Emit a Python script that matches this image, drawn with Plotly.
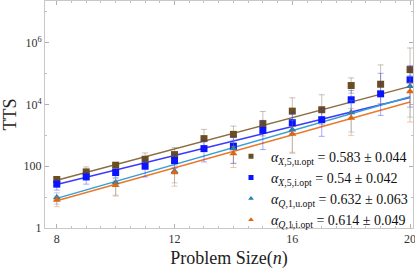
import numpy as np
import plotly.graph_objects as go

# ---- data ----
n_all = [8, 9, 10, 11, 12, 13, 14, 15, 16, 17, 18, 19, 20]
n_even = [8, 10, 12, 14, 16, 18, 20]

x5u_val = [37.2, 65.5, 108, 168, 238, 783, 1077, 2385, 6080, 6745, 41000, 45200, 134500]
x5u_top = [45, 95, 128, 269, 401, 1560, 1995, 5940, 16400, 20600, 72600, 191000, 675000]
x5u_bot = [30.7, 45, 91, 105, 142, 392, 582, 957, 2250, 2215, 23200, 10700, 26900]

x5i_val = [26.3, 45, 62.6, 100, 153, 372, 442, 1450, 2570, 3210, 14200, 22100, 62600]
x5i_top = [35.3, 64, 86, 156, 244, 690, 929, 3050, 5520, 7430, 28300, 102000, 181000]
x5i_bot = [16.8, 26.3, 41, 45, 86, 138, 125, 346, 1160, 929, 3530, 4420, 8180]

q1u_val = [9.8, 29.8, 69, 372, 1528, 5520, 38900]
q1u_top = [13.8, 44, 108, 690, 3050, 13500, 86100]
q1u_bot = [5.9, 11.6, 28.9, 122, 283, 1280, 3890]

q1i_val = [8.0, 24.4, 62.6, 257, 1102, 3615, 26300]
q1i_top = [10.8, 35.3, 93, 442, 1950, 7430, 51300]
q1i_bot = [4.9, 10.8, 22.6, 91, 262, 1000, 2690]

alphas = [0.583, 0.54, 0.632, 0.614]
alpha_errs = [0.044, 0.042, 0.063, 0.049]
fit_at_8 = [35.3, 25.7, 9.1, 7.6]
subs = ["X,5,u.opt", "X,5,i.opt", "Q,1,u.opt", "Q,1,i.opt"]

y_tickvals = [1, 100, 1e4, 1e6]
y_ticktext = ["1", "100", "10<sup>4</sup>", "10<sup>6</sup>"]
x_tickvals = [8, 12, 16, 20]

# ---- styles ----
marker_cols = ["#6b4e1f", "#0a14ff", "#1f7fb8", "#e0650f"]
line_cols = ["#8a6d42", "#3a3aff", "#3a9fd0", "#e87a2e"]
err_cols = ["rgba(120,100,70,0.4)", "rgba(40,40,255,0.4)",
            "rgba(60,150,210,0.4)", "rgba(230,110,30,0.4)"]
symbols = ["square", "square", "triangle-up", "triangle-up"]
FONT = "Liberation Serif"

series = [
    (n_all, x5u_val, x5u_top, x5u_bot),
    (n_all, x5i_val, x5i_top, x5i_bot),
    (n_even, q1u_val, q1u_top, q1u_bot),
    (n_even, q1i_val, q1i_top, q1i_bot),
]

fig = go.Figure()

# fit lines
n_line = np.array([min(n_all), max(n_all)], dtype=float)
for i in range(4):
    y_line = fit_at_8[i] * np.exp(alphas[i] * (n_line - n_line[0]))
    fig.add_trace(go.Scatter(x=n_line, y=y_line, mode="lines",
                             line=dict(color=line_cols[i], width=1.5),
                             showlegend=False, hoverinfo="skip"))

# data with error bars
for i, (xs, v, t, b) in enumerate(series):
    v = np.array(v); t = np.array(t); b = np.array(b)
    fig.add_trace(go.Scatter(
        x=xs, y=v, mode="markers",
        marker=dict(symbol=symbols[i], color=marker_cols[i], size=7),
        error_y=dict(type="data", symmetric=False, array=t - v, arrayminus=v - b,
                     color=err_cols[i], thickness=1, width=3),
        showlegend=False))

# legend entries
for i in range(4):
    name = (f"<i>α</i><sub><i>{subs[i][0]}</i>{subs[i][1:]}</sub> = "
            f"{alphas[i]} ± {alpha_errs[i]:.3f}")
    fig.add_trace(go.Scatter(x=[None], y=[None], mode="markers",
                             marker=dict(symbol=symbols[i], color=marker_cols[i], size=5),
                             name=name))

axis_common = dict(showline=True, linecolor="#c8c8c8", linewidth=1, mirror="ticks",
                   ticks="inside", ticklen=4, tickcolor="#b0b0b0",
                   showgrid=False, zeroline=False, automargin=False,
                   ticklabeloverflow="allow",
                   tickfont=dict(family=FONT, size=12, color="#333333"))

fig.update_layout(
    width=415, height=269,
    margin=dict(l=45, r=2, t=1, b=41),
    paper_bgcolor="white", plot_bgcolor="white",
    font=dict(family=FONT, color="#222222"),
    xaxis=dict(range=[7.6, 20.1], tickvals=x_tickvals,
               minor=dict(dtick=0.5, ticks="inside", ticklen=2, tickcolor="#c0c0c0"),
               title=dict(text="Problem Size(<i>n</i>)", font=dict(family=FONT, size=18),
                          standoff=6),
               **axis_common),
    yaxis=dict(type="log", range=[0, 7.35], tickvals=y_tickvals, ticktext=y_ticktext,
               minor=dict(tickvals=[10, 1e3, 1e5, 1e7], ticks="inside", ticklen=2,
                          tickcolor="#c0c0c0"),
               title=dict(text="TTS", font=dict(family=FONT, size=18), standoff=4),
               **axis_common),
    legend=dict(x=1.0, y=0.385, xanchor="right", yanchor="top",
                bgcolor="rgba(255,255,255,0)", borderwidth=0,
                font=dict(family=FONT, size=14, color="#111111"),
                itemwidth=30, tracegroupgap=0),
    showlegend=True,
)

fig.write_html("out.html", config={"displayModeBar": False},
               post_script="document.body.style.margin='0';document.body.style.padding='0';")
